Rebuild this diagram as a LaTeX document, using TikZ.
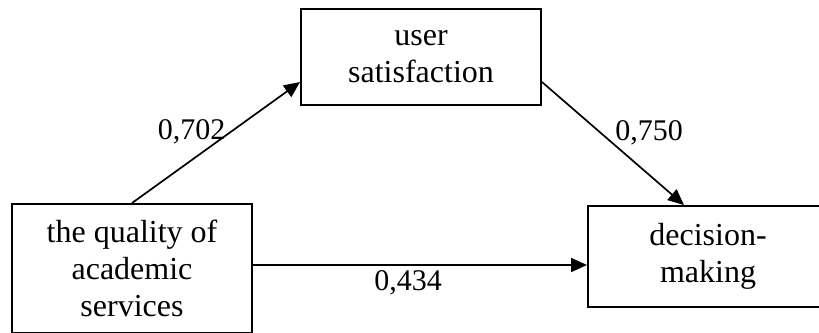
\documentclass[tikz,border=0pt]{standalone}
\usepackage{fontspec}
\setmainfont{Liberation Serif}
\usetikzlibrary{arrows.meta,calc}
\begin{document}
\begin{tikzpicture}[x=1pt,y=1pt,
  box/.style={draw,line width=1.9pt,minimum width=240pt,inner sep=0pt,align=center,
    font=\fontsize{32}{37}\selectfont},
  lab/.style={font=\fontsize{30}{34}\selectfont,inner sep=0pt},
  conn/.style={line width=1.7pt,-{Triangle[length=16pt,width=14pt]}}]
\useasboundingbox (0,0) rectangle (819,332);
\node[box,minimum height=129pt] (lb) at (132,63.5) {the quality of\\academic\\services};
\node[box,minimum height=96pt] (ts) at (421,275) {user\\satisfaction};
\node[box,minimum height=101pt] (rs) at (708,75.5) {decision-\\making};
\coordinate (hs) at ([yshift=3.5pt]lb.east);
\draw[conn] (lb.north) -- ([yshift=-25pt]ts.west);
\draw[conn] ([yshift=-25pt]ts.east) -- ([xshift=-24pt]rs.north);
\draw[conn] (hs) -- (hs -| rs.west);
\node[lab] (l1) at (191.5,200) {0,702};
\node[lab] (l2) at (649,199) {0,750};
\node[lab] (l3) at (408,49.5) {0,434};
\end{tikzpicture}
\end{document}
